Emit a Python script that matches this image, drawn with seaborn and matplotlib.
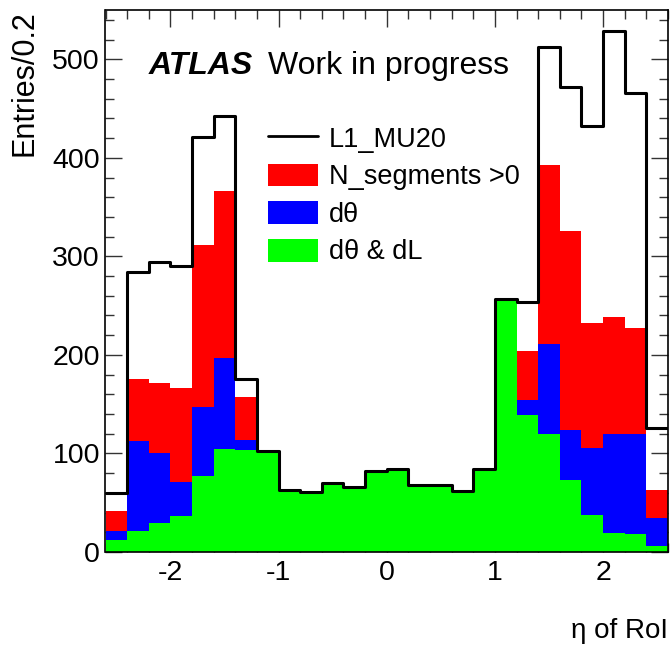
import numpy as np
import pandas as pd
import matplotlib
matplotlib.use("Agg")
import matplotlib.pyplot as plt
from matplotlib.ticker import MultipleLocator
from matplotlib.lines import Line2D
from matplotlib.patches import Patch
import seaborn as sns

# ---- data (entries per 0.2 bin in eta) ----
eta_lo, eta_hi, n_bins = -2.6, 2.6, 26
l1_mu20 = [60, 284, 294, 290, 421, 442, 176, 102, 63, 61, 70, 66, 82,
           84, 68, 68, 62, 84, 257, 254, 512, 472, 432, 529, 466, 126]
n_segments = [42, 176, 172, 166, 312, 366, 157, 102, 63, 61, 70, 66, 82,
              84, 68, 68, 62, 84, 255, 204, 393, 326, 232, 238, 227, 63]
d_theta = [21, 113, 100, 71, 147, 197, 114, 102, 63, 61, 70, 66, 82,
           84, 68, 68, 62, 84, 255, 154, 211, 124, 106, 120, 120, 34]
d_theta_dl = [12, 21, 29, 37, 77, 105, 104, 102, 63, 61, 70, 66, 82,
              84, 68, 68, 62, 84, 255, 139, 120, 73, 38, 19, 18, 6]
labels = ["L1_MU20", "N_segments >0", "d\u03b8", "d\u03b8 & dL"]
xticks = [-2, -1, 0, 1, 2]
yticks = [0, 100, 200, 300, 400, 500]

edges = np.linspace(eta_lo, eta_hi, n_bins + 1)
centers = 0.5 * (edges[:-1] + edges[1:])
df = pd.DataFrame({"eta": centers, "total": l1_mu20, "nseg": n_segments,
                   "dth": d_theta, "dthdl": d_theta_dl})

sns.set_style("ticks")
plt.rcParams["font.family"] = ["Liberation Sans", "DejaVu Sans"]
plt.rcParams["axes.unicode_minus"] = False
for k in ["text.color", "axes.labelcolor", "xtick.labelcolor",
          "ytick.labelcolor"]:
    plt.rcParams[k] = "black"

fig = plt.figure(figsize=(6.7, 6.48), dpi=100)
ax = fig.add_axes([105.5 / 670, 96 / 648, 562.5 / 670, 542 / 648])

hist_kw = dict(bins=n_bins, binrange=(eta_lo, eta_hi), element="step")
for col, c in [("nseg", "#ff0000"), ("dth", "#0000ff"), ("dthdl", "#00ff00")]:
    sns.histplot(data=df, x="eta", weights=col, fill=True, color=c, alpha=1,
                 linewidth=0, ax=ax, **hist_kw)
sns.histplot(data=df, x="eta", weights="total", fill=False, color="black",
             linewidth=2.2, ax=ax, **hist_kw)

ax.set_xlim(eta_lo, eta_hi)
ax.set_ylim(0, 550)
ax.set_xticks(xticks)
ax.set_yticks(yticks)
ax.xaxis.set_minor_locator(MultipleLocator(0.2))
ax.yaxis.set_minor_locator(MultipleLocator(20))
ax.tick_params(which="both", direction="in", top=True, right=True,
               width=1.0, color="#333333", labelcolor="black")
ax.tick_params(which="major", length=12, labelsize=20.5)
ax.tick_params(which="minor", length=6.5)
ax.tick_params(axis="y", which="major", pad=4)
ax.tick_params(axis="x", which="major", pad=6)
for s in ax.spines.values():
    s.set_linewidth(1.2)
    s.set_color("black")

ax.set_xlabel("\u03b7 of RoI", fontsize=20, loc="right", color="black")
ax.xaxis.set_label_coords(1.0, -0.122)
ax.set_ylabel("Entries/0.2", fontsize=22, loc="top", color="black")
ax.yaxis.set_label_coords(-0.118, 1.0)

ax.text(0.077, 0.882, "ATLAS", transform=ax.transAxes, fontsize=23,
        fontweight="bold", fontstyle="italic", va="baseline", color="black")
ax.text(0.289, 0.882, "Work in progress", transform=ax.transAxes,
        fontsize=23, va="baseline", color="black")

handles = [Line2D([], [], color="black", linewidth=2.0),
           Patch(facecolor="#ff0000", edgecolor="none"),
           Patch(facecolor="#0000ff", edgecolor="none"),
           Patch(facecolor="#00ff00", edgecolor="none")]
leg = ax.legend(handles, labels, loc="upper left",
                bbox_to_anchor=(0.289, 0.786), frameon=False, fontsize=19.5,
                handlelength=1.85, handleheight=0.92, handletextpad=0.4,
                labelspacing=0.40, borderpad=0, borderaxespad=0)
for t in leg.get_texts():
    t.set_color("black")

fig.savefig("out.png", dpi=100)
